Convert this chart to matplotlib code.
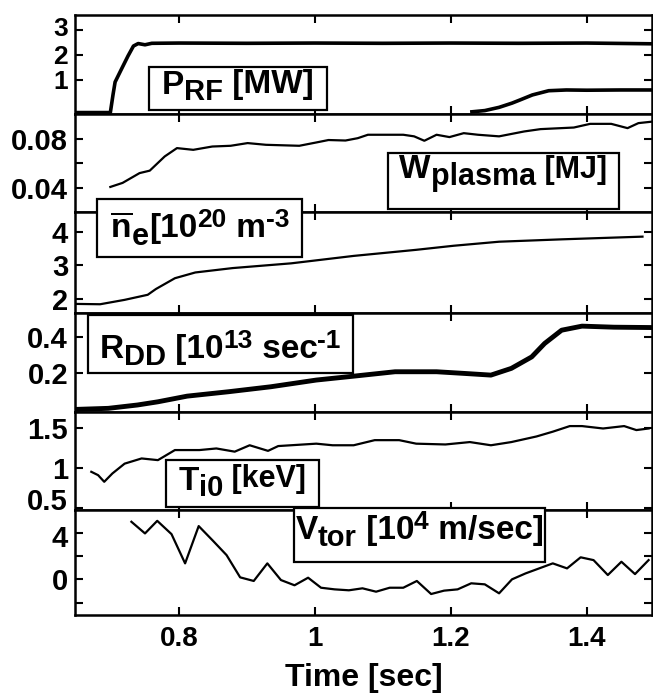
import numpy as np
import matplotlib
matplotlib.use("Agg")
import matplotlib.pyplot as plt
import matplotlib.transforms as mtransforms
from matplotlib.patches import Rectangle

FONT = "Liberation Sans"
plt.rcParams.update({
    "font.family": [FONT, "DejaVu Sans"],
    "font.weight": "bold",
    "axes.labelweight": "bold",
    "mathtext.fontset": "custom",
    "mathtext.rm": f"{FONT}:bold",
    "mathtext.it": f"{FONT}:bold",
    "mathtext.bf": f"{FONT}:bold",
    "mathtext.default": "rm",
    "axes.linewidth": 1.8,
})

# ============================================================
# 数据
# ============================================================
prf_t = [0.647, 0.699, 0.703, 0.706, 0.715, 0.725, 0.733, 0.740, 0.750, 0.760,
         0.800, 0.900, 1.000, 1.100, 1.200, 1.300, 1.400, 1.496]
prf_v = [-0.33, -0.33, 0.40, 0.90, 1.40, 1.95, 2.35, 2.45, 2.40, 2.46,
         2.47, 2.46, 2.47, 2.46, 2.47, 2.46, 2.47, 2.44]
prf2_t = [1.231, 1.250, 1.271, 1.290, 1.302, 1.320, 1.344, 1.370, 1.400, 1.450, 1.496]
prf2_v = [-0.30, -0.25, -0.12, 0.05, 0.18, 0.38, 0.55, 0.58, 0.57, 0.58, 0.58]

w_t = [0.699, 0.717, 0.742, 0.757, 0.779, 0.797, 0.821, 0.849, 0.876, 0.901,
       0.928, 0.977, 1.002, 1.020, 1.045, 1.063, 1.078, 1.130, 1.146, 1.161,
       1.179, 1.198, 1.219, 1.240, 1.271, 1.308, 1.332, 1.381, 1.405, 1.436,
       1.460, 1.476, 1.496]
w_v = [0.0407, 0.044, 0.052, 0.054, 0.0656, 0.0724, 0.071, 0.0737, 0.0743, 0.0765,
       0.0751, 0.0743, 0.077, 0.079, 0.0786, 0.0805, 0.0833, 0.0833, 0.082, 0.0784,
       0.0833, 0.0814, 0.0846, 0.0833, 0.082, 0.086, 0.0879, 0.0892, 0.0922, 0.0922,
       0.0887, 0.0928, 0.094]

ne_t = [0.648, 0.684, 0.720, 0.754, 0.766, 0.794, 0.824, 0.879, 0.965, 1.057,
        1.149, 1.204, 1.271, 1.363, 1.482]
ne_v = [1.86, 1.85, 1.98, 2.13, 2.30, 2.62, 2.79, 2.92, 3.06, 3.28,
        3.46, 3.58, 3.70, 3.77, 3.85]

rdd_t = [0.648, 0.696, 0.739, 0.769, 0.812, 0.873, 0.935, 1.002, 1.057, 1.118,
         1.179, 1.222, 1.259, 1.289, 1.319, 1.338, 1.363, 1.393, 1.440, 1.496]
rdd_v = [-0.007, -0.001, 0.018, 0.036, 0.068, 0.093, 0.121, 0.159, 0.181, 0.206,
         0.206, 0.196, 0.187, 0.225, 0.290, 0.366, 0.441, 0.464, 0.458, 0.456]

ti_t = [0.671, 0.681, 0.690, 0.702, 0.720, 0.745, 0.769, 0.794, 0.830, 0.855,
        0.882, 0.904, 0.931, 0.946, 1.002, 1.026, 1.057, 1.088, 1.124, 1.149,
        1.192, 1.228, 1.259, 1.289, 1.326, 1.350, 1.375, 1.393, 1.424, 1.455,
        1.473, 1.491]
ti_v = [0.958, 0.916, 0.833, 0.937, 1.06, 1.125, 1.104, 1.23, 1.23, 1.25,
        1.21, 1.29, 1.22, 1.28, 1.31, 1.29, 1.29, 1.354, 1.354, 1.31,
        1.30, 1.33, 1.29, 1.33, 1.40, 1.46, 1.53, 1.53, 1.50, 1.53,
        1.48, 1.50]

vt_t = [0.730, 0.750, 0.768, 0.789, 0.809, 0.829, 0.850, 0.870, 0.890, 0.910,
        0.930, 0.950, 0.970, 0.990, 1.009, 1.029, 1.050, 1.070, 1.090, 1.110,
        1.130, 1.150, 1.171, 1.190, 1.210, 1.230, 1.250, 1.271, 1.290, 1.310,
        1.330, 1.350, 1.371, 1.391, 1.410, 1.431, 1.451, 1.471, 1.491]
vt_v = [4.94, 3.94, 5.02, 3.88, 1.37, 4.57, 3.31, 2.08, 0.17, -0.14,
        1.37, -0.06, -0.51, 0.14, -0.72, -0.86, -0.94, -0.77, -1.06, -0.72,
        -0.72, -0.14, -1.26, -0.97, -0.86, -0.34, -0.43, -1.20, 0.00, 0.51,
        0.94, 1.37, 0.94, 1.89, 1.65, 0.37, 1.51, 0.45, 1.65]

x_ticks = [0.8, 1.0, 1.2, 1.4]
x_ticklabels = ["0.8", "1", "1.2", "1.4"]

# ============================================================
# 版面
# ============================================================
W, H = 653, 696
LEFT, RIGHT = 75, 652
EDGES = [15, 114.3, 212.3, 312.7, 411.7, 510, 615]
XLIM = (0.647, 1.496)

fig = plt.figure(figsize=(W / 100, H / 100), dpi=100)


def _panel(i):
    top, bot = EDGES[i], EDGES[i + 1]
    ax = fig.add_axes([LEFT / W, 1 - bot / H, (RIGHT - LEFT) / W, (bot - top) / H])
    ax.set_xlim(*XLIM)
    ax.set_xticks(x_ticks)
    ax.tick_params(direction="in", which="both", top=True, right=True,
                   length=6, width=1.5, labelsize=21, pad=5)
    if i < 5:
        ax.tick_params(labelbottom=False)
    return ax


def _shift_label(label, dy_px):
    """把单个刻度标签上下平移 (像素, 向上为正)"""
    off = mtransforms.ScaledTranslation(0, dy_px / 100, fig.dpi_scale_trans)
    label.set_transform(label.get_transform() + off)


axes = [_panel(i) for i in range(6)]

# 1: P_RF
ax = axes[0]
ax.plot(prf_t, prf_v, color="black", lw=2.6)
ax.plot(prf2_t, prf2_v, color="black", lw=2.6)
ax.set_ylim(-0.4, 3.6)
ax.set_yticks([1, 2, 3])
ax.set_yticklabels(["1", "2", "3"])
ax.tick_params(axis="y", labelsize=19)
_shift_label(ax.get_yticklabels()[2], 3)

# 2: W_plasma
ax = axes[1]
ax.plot(w_t, w_v, color="black", lw=1.6)
ax.set_ylim(0.02, 0.1)
ax.set_yticks([0.04, 0.06, 0.08])
ax.set_yticklabels(["0.04", "", "0.08"])

# 3: n_e
ax = axes[2]
ax.plot(ne_t, ne_v, color="black", lw=1.6)
ax.set_ylim(1.6, 4.57)
ax.set_yticks([2, 3, 4])
ax.set_yticklabels(["2", "3", "4"])

# 4: R_DD
ax = axes[3]
ax.plot(rdd_t, rdd_v, color="black", lw=3.5)
ax.set_ylim(-0.02, 0.54)
ax.set_yticks([0.2, 0.4])
ax.set_yticklabels(["0.2", "0.4"])

# 5: T_i0
ax = axes[4]
ax.plot(ti_t, ti_v, color="black", lw=1.6)
ax.set_ylim(0.48, 1.71)
ax.set_yticks([0.5, 1.0, 1.5])
ax.set_yticklabels(["0.5", "1", "1.5"])
_shift_label(ax.get_yticklabels()[0], 9)

# 6: V_tor
ax = axes[5]
ax.plot(vt_t, vt_v, color="black", lw=1.6)
ax.set_ylim(-3.06, 5.95)
ax.set_yticks([-2, 0, 2, 4])
ax.set_yticklabels(["", "0", "", "4"])
_shift_label(ax.get_yticklabels()[3], -3)
ax.set_xticklabels(x_ticklabels)
ax.tick_params(axis="x", labelsize=20, pad=8)
ax.set_xlabel("Time [sec]", fontsize=23, labelpad=8)

# ============================================================
# 标签框: 文本片段 (文字, 字号, 上移像素), 框 (x0, x1, y0, y1), 基线偏移
# ============================================================
labels = [
    ([("P", 24, 0), ("RF", 21, -6), (" [MW]", 24, 0)], (149, 327, 67, 110), 5),
    ([("W", 24, 0), ("plasma", 22, -7), (" [MJ]", 22, 0)], (387.5, 619, 153, 209), -3),
    ([(r"$\overline{n}$", 24, 0), ("e", 22, -8), ("[10", 24, 0), ("20", 19, 10),
      (" m", 24, 0), ("-3", 19, 10)], (97, 302, 199, 257), 9),
    ([("R", 24, 0), ("DD", 21, -7), (" [10", 24, 0), ("13", 19, 10),
      (" sec", 24, 0), ("-1", 19, 10)], (87.5, 353, 315, 373), 14),
    ([("T", 24, 0), ("i0", 21, -7), (" [keV]", 22, 2)], (166, 319, 460, 507), 6),
    ([("V", 24, 0), ("tor", 21, -7), (" [10", 24, 0), ("4", 19, 10),
      (" m/sec]", 24, 0)], (294, 545, 508, 562), 4),
]

renderer = fig.canvas.get_renderer()
for pieces, (x0, x1, y0, y1), base_dy in labels:
    rect = Rectangle((x0 / W, 1 - y1 / H), (x1 - x0) / W, (y1 - y0) / H,
                     transform=fig.transFigure, facecolor="white",
                     edgecolor="black", lw=1.6, zorder=10)
    fig.add_artist(rect)
    texts = [fig.text(0, 0, s, fontsize=size, ha="left", va="baseline", zorder=11)
             for s, size, _ in pieces]
    widths = [t.get_window_extent(renderer).width for t in texts]
    x = (x0 + x1) / 2 - sum(widths) / 2
    yc = (y0 + y1) / 2 + base_dy
    for t, w, (_, _, dy) in zip(texts, widths, pieces):
        t.set_position((x / W, 1 - (yc - dy) / H))
        x += w

fig.savefig("out.png", dpi=100)
